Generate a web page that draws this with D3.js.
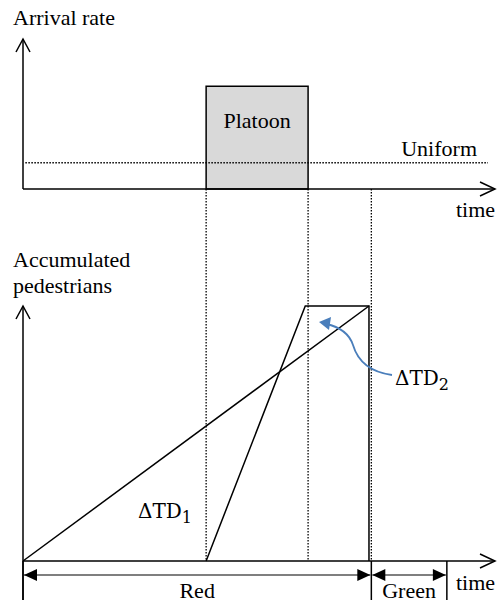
<!DOCTYPE html>
<html>
<head>
<meta charset="utf-8">
<script src="https://cdn.jsdelivr.net/npm/d3@7"></script>
<style>
  body { margin: 0; background: #fff; }
  text { font-family: "Liberation Serif", "Times New Roman", serif; fill: #000; }
  text.td { font-family: "DejaVu Serif", serif; }
</style>
</head>
<body>
<svg id="canvas"></svg>
<script>
// time marks (arbitrary units)
let phaseNames = ['Red', 'Green'];
let phaseTimes = [0, 73.8, 89.8];        // red start, red end, green end
let platoonTimes = [38.8, 60.4];         // platoon start / end
let axisEnd = 100;

// arrival rates (top chart)
let uniformRate = 1.75;
let platoonRate = 6.85;
let rateMax = 10;

// accumulated pedestrians (bottom chart)
let cumMax = 10;
let uniformCum = [[0, 0], [73.3, 10]];
let platoonCum = [[38.8, 0], [59.8, 10], [73.3, 10], [73.3, 0]];

let width = 501;
let height = 604;
let fontSize = 22;

let canvas = d3.select('#canvas')
  .attr('width', width)
  .attr('height', height);

let xScale = d3.scaleLinear().domain([0, axisEnd]).range([23, 495]);
let yTop = d3.scaleLinear().domain([0, rateMax]).range([189, 39]);
let yBot = d3.scaleLinear().domain([0, cumMax]).range([561, 306]);

let line = (sy) => d3.line().x(d => xScale(d[0])).y(d => sy(d[1]));

let openArrowUp = (x, y) => `M${x - 7},${y + 13} L${x},${y} L${x + 7},${y + 13}`;
let openArrowRight = (x, y) => `M${x - 15},${y - 7} L${x},${y} L${x - 15},${y + 7}`;

let label = (x, y, txt, anchor) => canvas.append('text')
  .attr('x', x).attr('y', y)
  .attr('text-anchor', anchor || 'start')
  .attr('font-size', fontSize)
  .text(txt);

// ---- top chart ----
canvas.append('rect')
  .attr('x', xScale(platoonTimes[0]))
  .attr('y', yTop(platoonRate))
  .attr('width', xScale(platoonTimes[1]) - xScale(platoonTimes[0]))
  .attr('height', yTop(0) - yTop(platoonRate))
  .attr('fill', '#d9d9d9')
  .attr('stroke', '#000')
  .attr('stroke-width', 1.5);

label((xScale(platoonTimes[0]) + xScale(platoonTimes[1])) / 2, 128, 'Platoon', 'middle');

canvas.append('line')
  .attr('x1', xScale(0.5)).attr('x2', xScale(98.5))
  .attr('y1', yTop(uniformRate)).attr('y2', yTop(uniformRate))
  .attr('stroke', '#000').attr('stroke-width', 1.3)
  .attr('stroke-dasharray', '1.5,1.5');

label(477, 156, 'Uniform', 'end');

// axes top
canvas.append('line')
  .attr('x1', xScale(0)).attr('x2', xScale(0))
  .attr('y1', yTop(0)).attr('y2', yTop(rateMax))
  .attr('stroke', '#000').attr('stroke-width', 1.5);
canvas.append('path').attr('d', openArrowUp(xScale(0), yTop(rateMax)))
  .attr('fill', 'none').attr('stroke', '#000').attr('stroke-width', 1.5);
canvas.append('line')
  .attr('x1', xScale(0)).attr('x2', xScale(axisEnd))
  .attr('y1', yTop(0)).attr('y2', yTop(0))
  .attr('stroke', '#000').attr('stroke-width', 1.5);
canvas.append('path').attr('d', openArrowRight(xScale(axisEnd), yTop(0)))
  .attr('fill', 'none').attr('stroke', '#000').attr('stroke-width', 1.5);

label(13, 25, 'Arrival rate');
label(456, 217, 'time');

// dotted guides
[platoonTimes[0], platoonTimes[1], phaseTimes[1]].forEach(t => {
  canvas.append('line')
    .attr('x1', xScale(t)).attr('x2', xScale(t))
    .attr('y1', yTop(0)).attr('y2', yBot(0))
    .attr('stroke', '#000').attr('stroke-width', 1.3)
    .attr('stroke-dasharray', '1.5,1.5');
});

// ---- bottom chart ----
canvas.append('path').datum(uniformCum)
  .attr('d', line(yBot))
  .attr('fill', 'none').attr('stroke', '#000').attr('stroke-width', 1.5);
canvas.append('path').datum(platoonCum)
  .attr('d', line(yBot))
  .attr('fill', 'none').attr('stroke', '#000').attr('stroke-width', 1.5);

canvas.append('line')
  .attr('x1', xScale(0)).attr('x2', xScale(0))
  .attr('y1', 600).attr('y2', yBot(cumMax))
  .attr('stroke', '#000').attr('stroke-width', 1.5);
canvas.append('path').attr('d', openArrowUp(xScale(0), yBot(cumMax)))
  .attr('fill', 'none').attr('stroke', '#000').attr('stroke-width', 1.5);
canvas.append('line')
  .attr('x1', xScale(0)).attr('x2', xScale(axisEnd))
  .attr('y1', yBot(0)).attr('y2', yBot(0))
  .attr('stroke', '#000').attr('stroke-width', 1.5);
canvas.append('path').attr('d', openArrowRight(xScale(axisEnd), yBot(0)))
  .attr('fill', 'none').attr('stroke', '#000').attr('stroke-width', 1.5);

label(13, 267, 'Accumulated');
label(13, 293, 'pedestrians');

// phase ticks and double arrows
phaseTimes.forEach(t => {
  canvas.append('line')
    .attr('x1', xScale(t)).attr('x2', xScale(t))
    .attr('y1', yBot(0)).attr('y2', 600)
    .attr('stroke', '#000').attr('stroke-width', 1.5);
});

let arrowY = 575;
let tri = (x, dir) => `M${x},${arrowY} L${x + dir * 13},${arrowY - 6} L${x + dir * 13},${arrowY + 6} Z`;
phaseNames.forEach((name, i) => {
  let x0 = xScale(phaseTimes[i]) + 1;
  let x1 = xScale(phaseTimes[i + 1]) - 1;
  canvas.append('line')
    .attr('x1', x0).attr('x2', x1)
    .attr('y1', arrowY).attr('y2', arrowY)
    .attr('stroke', '#000').attr('stroke-width', 1.2);
  canvas.append('path').attr('d', tri(x0, 1)).attr('fill', '#000');
  canvas.append('path').attr('d', tri(x1, -1)).attr('fill', '#000');
  label((x0 + x1) / 2, 598, name, 'middle');
});
label(456, 590, 'time');

// ΔTD labels
let tdLabel = (x, y, sub) => {
  let t = canvas.append('text').attr('class', 'td')
    .attr('x', x).attr('y', y)
    .attr('font-size', 20);
  t.append('tspan').text('ΔTD');
  t.append('tspan').attr('dy', 5).attr('font-size', 16).text(sub);
};
tdLabel(138, 518, '1');
tdLabel(395, 385, '2');

// blue curved arrow
canvas.append('path')
  .attr('d', 'M392,375 C370,372 358,362 353,345 C349,333 340,327 326,324')
  .attr('fill', 'none').attr('stroke', '#4a7ebb').attr('stroke-width', 1.8);
canvas.append('path')
  .attr('d', 'M319,322 L331,317 L329,330 Z')
  .attr('fill', '#4a7ebb');
</script>
</body>
</html>
